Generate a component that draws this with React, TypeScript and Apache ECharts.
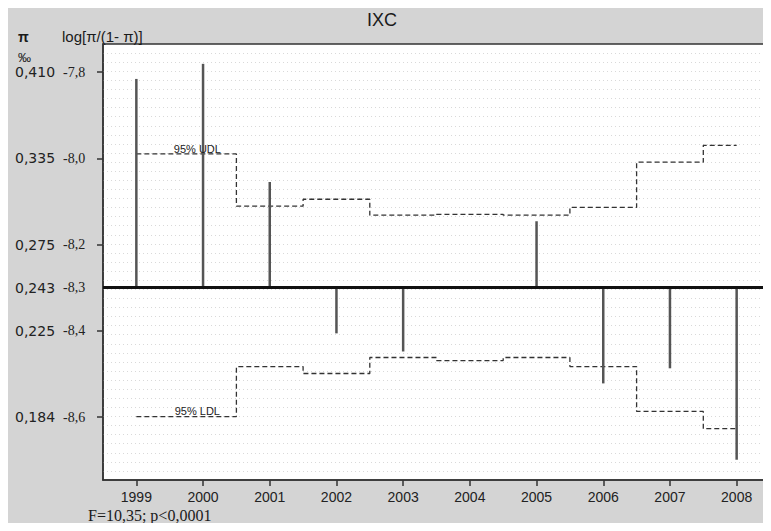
import React, { useEffect, useRef } from "react";
import * as echarts from "echarts";

const years = ["1999", "2000", "2001", "2002", "2003", "2004", "2005", "2006", "2007", "2008"];
const logitValues = [-7.816, -7.781, -8.055, -8.406, -8.448, -8.3, -8.146, -8.522, -8.487, -8.699];
const baselineValue = -8.3;
const udlValues = [-7.99, -7.99, -8.111, -8.095, -8.132, -8.13, -8.132, -8.114, -8.009, -7.97];
const ldlValues = [-8.599, -8.599, -8.483, -8.499, -8.462, -8.469, -8.462, -8.483, -8.587, -8.627];
const logitTicks = [-7.8, -8.0, -8.2, -8.3, -8.4, -8.6];
const logitTickLabels = ["-7,8", "-8,0", "-8,2", "-8,3", "-8,4", "-8,6"];
const piTickLabels = ["0,410", "0,335", "0,275", "0,243", "0,225", "0,184"];
const tickMarkValues = [-7.8, -8.0, -8.2, -8.4, -8.6];

export default function App() {
  const ref = useRef<HTMLDivElement>(null);
  useEffect(() => {
    if (!ref.current) return;
    const chart = echarts.init(ref.current, null, { renderer: "svg" });
    const sans = "Liberation Sans, Arial, sans-serif";
    const serif = "Liberation Serif, Times New Roman, serif";
    chart.setOption({
      animation: false,
      backgroundColor: "#d4d4d4",
      grid: {
        left: 95,
        top: 36,
        right: 1,
        bottom: 43,
        show: true,
        backgroundColor: "#ffffff",
        borderColor: "#333",
        borderWidth: 1.5,
      },
      graphic: [
        { type: "text", x: 374, y: 12, style: { text: "IXC", font: `18px ${sans}`, fill: "#1a1a1a", textAlign: "center", textVerticalAlign: "middle" } },
        { type: "text", x: 10, y: 29, style: { text: "π", font: `bold 14px ${sans}`, fill: "#1a1a1a", textVerticalAlign: "middle" } },
        { type: "text", x: 54, y: 28, style: { text: "log[π/(1- π)]", font: `15px ${sans}`, fill: "#1a1a1a", textVerticalAlign: "middle" } },
        { type: "text", x: 10, y: 49, style: { text: "‰", font: `13px ${sans}`, fill: "#1a1a1a", textVerticalAlign: "middle" } },
        { type: "text", x: 80, y: 507, style: { text: "F=10,35; p<0,0001", font: `16px ${serif}`, fill: "#1a1a1a", textVerticalAlign: "middle" } },
      ],
      xAxis: {
        type: "category",
        data: years,
        boundaryGap: true,
        axisLine: { show: true, lineStyle: { color: "#333", width: 1.5 } },
        axisTick: { show: true, alignWithLabel: true, length: 6, lineStyle: { color: "#333", width: 1.5 } },
        axisLabel: { margin: 10, fontFamily: sans, fontSize: 14, color: "#222" },
        splitLine: { show: false },
      },
      yAxis: [
        {
          type: "value",
          min: -8.746,
          max: -7.735,
          axisLine: { show: true, lineStyle: { color: "#333", width: 1.5 } },
          axisTick: { show: true, length: 6, customValues: tickMarkValues, lineStyle: { color: "#333", width: 1.5 } },
          splitLine: { show: false },
          axisLabel: {
            customValues: logitTicks,
            margin: 14,
            formatter: (v: number) => {
              const i = logitTicks.findIndex((t) => Math.abs(t - v) < 1e-6);
              if (i < 0) return "";
              return `{a|${piTickLabels[i]}}{b|${logitTickLabels[i]}}`;
            },
            rich: {
              a: { fontFamily: "DejaVu Sans, sans-serif", fontSize: 14, color: "#222", width: 48, align: "left" },
              b: { fontFamily: serif, fontSize: 14, color: "#222", width: 26, align: "left" },
            },
          },
        },
        {
          type: "value",
          min: 0,
          max: 48,
          interval: 1,
          position: "right",
          axisLine: { show: false },
          axisTick: { show: false },
          axisLabel: { show: false },
          splitLine: { show: true, showMinLine: false, showMaxLine: false, lineStyle: { color: "#d9d9d9", type: [1, 3], width: 1 } },
        },
      ],
      series: [
        {
          type: "custom",
          name: "logit",
          yAxisIndex: 0,
          data: logitValues.map((v, i) => [i, v]),
          encode: { x: 0, y: 1 },
          renderItem: (params: any, api: any) => {
            const i = api.value(0);
            const v = api.value(1);
            const p0 = api.coord([i, baselineValue]);
            const p1 = api.coord([i, v]);
            return {
              type: "line",
              shape: { x1: p0[0], y1: p0[1], x2: p1[0], y2: p1[1] },
              style: { stroke: "#555", lineWidth: 2.5 },
            };
          },
          markLine: {
            silent: true,
            symbol: "none",
            label: { show: false },
            lineStyle: { color: "#111", width: 3, type: "solid" },
            data: [{ yAxis: baselineValue }],
          },
          z: 3,
        },
        {
          type: "line",
          name: "95% UDL",
          yAxisIndex: 0,
          data: udlValues,
          step: "middle",
          symbol: "none",
          lineStyle: { color: "#333", width: 1.3, type: [5, 3] },
          markPoint: {
            symbol: "circle",
            symbolSize: 1,
            itemStyle: { color: "rgba(0,0,0,0)" },
            label: { show: true, position: "inside", offset: [61, -5], formatter: "95% UDL", fontFamily: sans, fontSize: 11, color: "#222" },
            data: [{ coord: [0, udlValues[0]] }],
          },
          z: 2,
        },
        {
          type: "line",
          name: "95% LDL",
          yAxisIndex: 0,
          data: ldlValues,
          step: "middle",
          symbol: "none",
          lineStyle: { color: "#333", width: 1.3, type: [5, 3] },
          markPoint: {
            symbol: "circle",
            symbolSize: 1,
            itemStyle: { color: "rgba(0,0,0,0)" },
            label: { show: true, position: "inside", offset: [61, -6], formatter: "95% LDL", fontFamily: sans, fontSize: 11, color: "#222" },
            data: [{ coord: [0, ldlValues[0]] }],
          },
          z: 2,
        },
      ],
    });
    return () => chart.dispose();
  }, []);
  return <div ref={ref} style={{ width: 763, height: 515, background: "#d4d4d4" }} />;
}
